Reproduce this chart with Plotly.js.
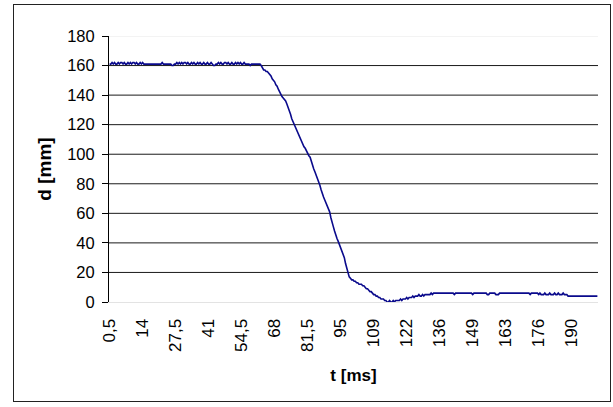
<!DOCTYPE html>
<html>
<head>
<meta charset="utf-8">
<script src="https://cdn.plot.ly/plotly-3.0.1.min.js"></script>
<style>
  html, body { margin: 0; padding: 0; background: #fff; }
  #frame {
    position: absolute; left: 13px; top: 4px;
    width: 596px; height: 396px;
    border: 1px solid #222;
  }
  #chart { width: 596px; height: 396px; }
</style>
</head>
<body>
<div id="frame"><div id="chart"></div></div>
<script>
// Measured distance d [mm], one sample every 0.5 ms (t = 0.5 ... 200 ms)
const d_mm = [
  161,161,162,161,162,161,161,162,161,162,162,161,162,161,161,162,161,162,161,162,
  162,161,162,161,161,162,161,162,161,161,161,161,161,161,161,161,161,161,161,161,
  161,161,161,162,161,161,161,161,161,161,161,160,160,161,161,162,161,162,161,162,
  161,162,162,161,162,161,161,162,161,162,161,161,162,161,162,161,161,162,161,161,
  162,161,161,162,161,160,160,161,161,162,161,162,161,161,162,162,161,162,161,161,
  162,161,161,162,161,162,161,162,161,161,162,161,161,161,161,160,161,161,161,161,
  161,161,161,161,160,158,157,157,156,156,155,154,153,151,150,149,147,146,144,142,
  141,139,138,137,136,134,132,129,127,124,122,121,119,117,115,113,111,109,107,105,
  104,102,100,99,98,95,93,90,88,86,84,81,79,76,73,71,69,67,65,63,
  61,57,53,51,48,45,43,41,39,37,35,33,30,26,23,20,17,16,15,15,
  14,14,13,13,12,12,12,11,11,10,9,9,8,7,7,6,5,5,4,4,
  3,3,2,2,2,1,1,0,0,1,0,0,1,0,1,1,1,1,2,1,
  2,2,2,3,2,3,3,3,4,3,4,4,4,5,4,4,5,4,5,5,
  5,5,5,6,5,6,6,6,6,6,6,6,6,6,6,6,6,6,6,6,
  6,6,5,6,6,6,6,6,6,6,6,6,6,6,6,6,6,5,6,6,
  6,6,6,6,6,6,6,6,6,5,5,6,6,6,6,6,5,5,5,6,
  6,6,6,6,6,6,6,6,6,6,6,6,6,6,6,6,6,6,6,6,
  6,6,6,6,5,6,6,6,6,6,6,5,6,5,5,5,6,5,5,5,
  6,5,5,5,6,5,5,6,5,5,5,6,5,5,5,4,4,4,4,4,
  4,4,4,4,4,4,4,4,4,4,4,4,4,4,4,4,4,4,4,4
];

// Sample step of the time axis [ms]
const sampleStep = 0.5;
const t_ms = d_mm.map((_, i) => sampleStep * (i + 1));

// Category labels shown on the time axis (every 27th sample)
const xTickVals = [0.5, 14, 27.5, 41, 54.5, 68, 81.5, 95, 108.5, 122, 135.5, 149, 162.5, 176, 189.5];
const xTickText = ["0,5", "14", "27,5", "41", "54,5", "68", "81,5", "95", "109", "122", "136", "149", "163", "176", "190"];

const yTickVals = [0, 20, 40, 60, 80, 100, 120, 140, 160, 180];

const font = "Liberation Sans, Arial, sans-serif";

// Horizontal gridlines (the top one is faint)
const shapes = yTickVals.filter(v => v > 0).map(v => ({
  type: "line", xref: "paper", yref: "y",
  x0: 0, x1: 1, y0: v, y1: v,
  line: { color: v === 180 ? "#e8e8e8" : "#1a1a1a", width: 1 },
  layer: "below"
}));

const trace = {
  x: t_ms,
  y: d_mm,
  type: "scatter",
  mode: "lines",
  line: { color: "#0a0a8c", width: 1.6 },
  hoverinfo: "x+y"
};

const layout = {
  width: 596,
  height: 396,
  margin: { l: 95, r: 12, t: 31, b: 99 },
  paper_bgcolor: "#fff",
  plot_bgcolor: "#fff",
  showlegend: false,
  shapes: shapes,
  xaxis: {
    range: [0.25, 200.25],
    tickmode: "array",
    tickvals: xTickVals,
    ticktext: xTickText,
    tickangle: -90,
    ticks: "",
    ticklabelstandoff: 9,
    showgrid: false,
    zeroline: false,
    showline: true,
    linecolor: "#e3e3e3",
    linewidth: 1,
    tickfont: { family: font, size: 17, color: "#000" },
    title: { text: "<b>t [ms]</b>", font: { family: font, size: 17, color: "#000" }, standoff: 18 }
  },
  yaxis: {
    range: [0, 180],
    tickmode: "array",
    tickvals: yTickVals,
    ticks: "outside",
    ticklen: 6,
    tickcolor: "#000",
    ticklabelstandoff: 4,
    showgrid: false,
    zeroline: false,
    showline: true,
    linecolor: "#000",
    linewidth: 1,
    tickfont: { family: font, size: 16.5, color: "#000" },
    title: { text: "<b>d [mm]</b>", font: { family: font, size: 19, color: "#000" }, standoff: 10 }
  }
};

Plotly.newPlot("chart", [trace], layout, { displayModeBar: false, staticPlot: true });
</script>
</body>
</html>
